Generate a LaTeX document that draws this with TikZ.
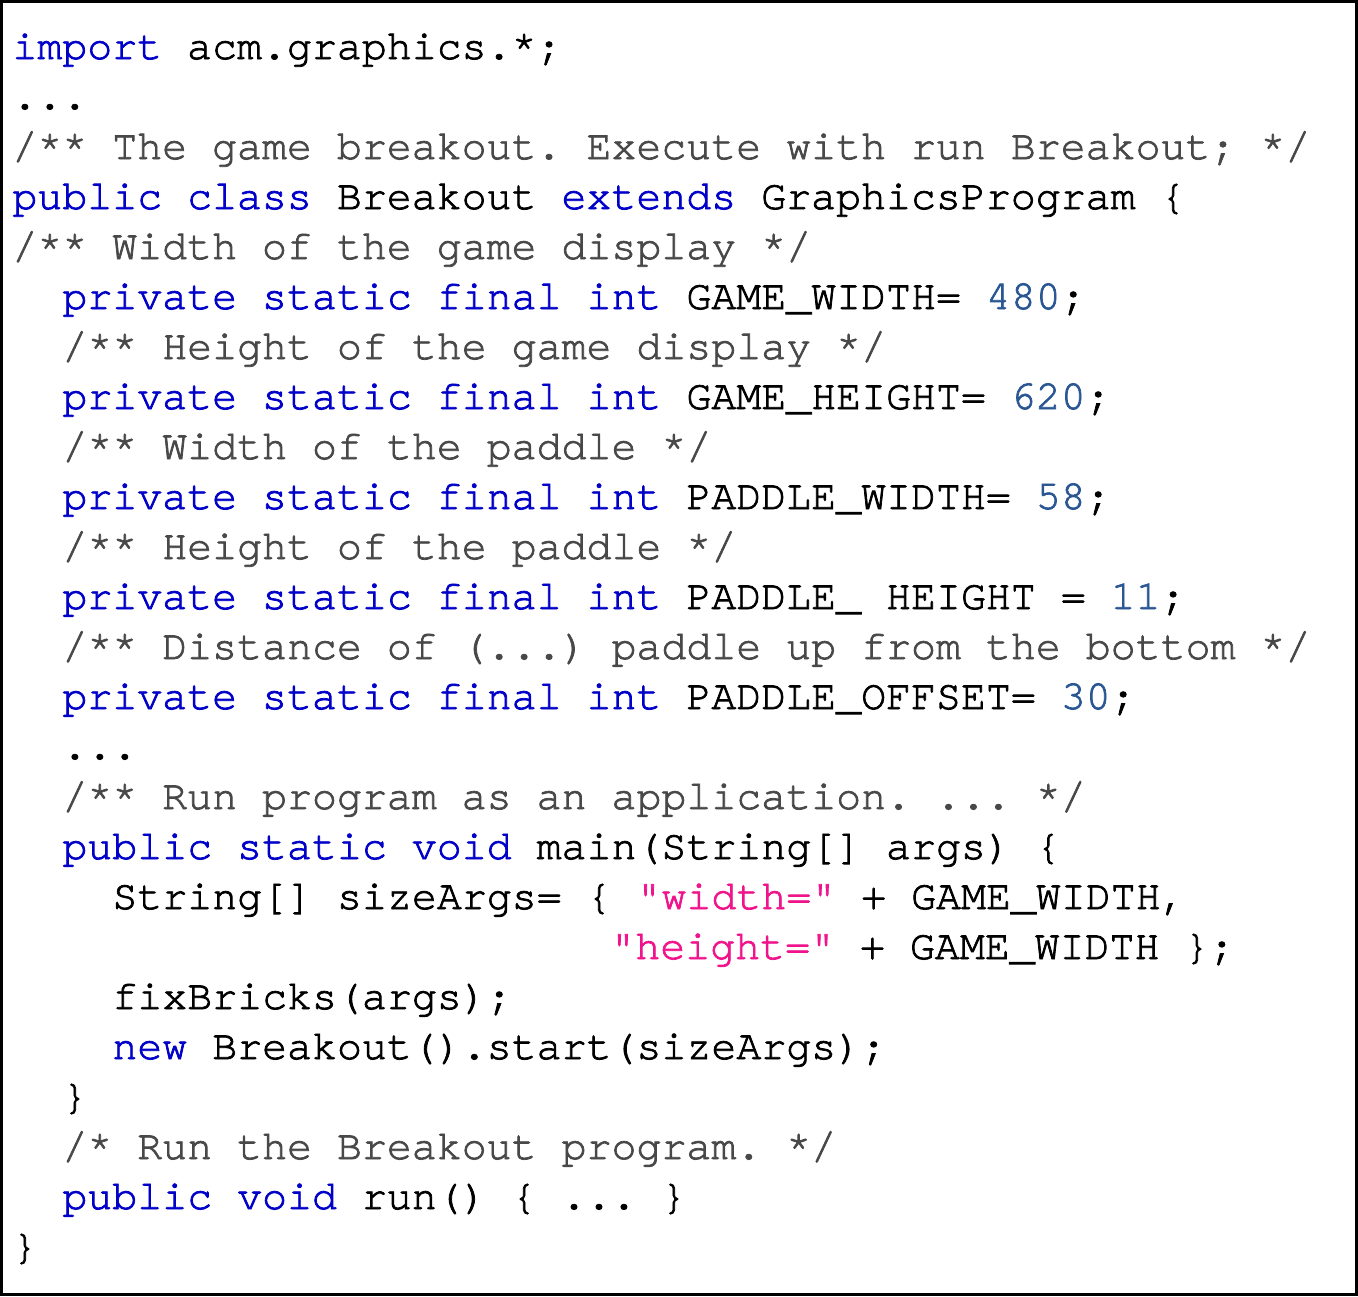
\documentclass[tikz,border=0pt]{standalone}
\usepackage{fontspec}
\newfontfamily\codefont{texgyrecursor-regular.otf}[Ligatures={TeXOff,NoCommon},FakeBold=1.8]
\definecolor{kwblue}{RGB}{0,0,200}
\definecolor{cmgray}{RGB}{72,72,72}
\definecolor{numblue}{RGB}{42,86,148}
\definecolor{strpink}{RGB}{240,20,140}
\newcommand{\kw}[1]{\textcolor{kwblue}{#1}}
\newcommand{\cm}[1]{\textcolor{cmgray}{#1}}
\newcommand{\nm}[1]{\textcolor{numblue}{#1}}
\newcommand{\st}[1]{\textcolor{strpink}{#1}}
\tikzset{codeline/.style={anchor=base west,inner sep=0,font=\codefont\fontsize{20.8pt}{25pt}\selectfont\frenchspacing}}
\begin{document}
\begin{tikzpicture}[x=0.5pt,y=-0.5pt]
        \useasboundingbox (0,0) rectangle (1358,1296);
        \draw[line width=1.4pt] (1.4,1.4) rectangle (1356.6,1294.6);
        \node[codeline] (l0) at (12,59) {\kw{import} acm.graphics.*;};
        \node[codeline] (l1) at (12,109) {...};
        \node[codeline] (l2) at (12,159) {\cm{/** The game breakout. Execute with run Breakout; */}};
        \node[codeline] (l3) at (12,209) {\kw{public class} Breakout \kw{extends} GraphicsProgram \{};
        \node[codeline] (l4) at (12,259) {\cm{/** Width of the game display */}};
        \node[codeline] (l5) at (62,309) {\kw{private static final int} GAME\_WIDTH= \nm{480};};
        \node[codeline] (l6) at (62,359) {\cm{/** Height of the game display */}};
        \node[codeline] (l7) at (62,409) {\kw{private static final int} GAME\_HEIGHT= \nm{620};};
        \node[codeline] (l8) at (62,459) {\cm{/** Width of the paddle */}};
        \node[codeline] (l9) at (62,509) {\kw{private static final int} PADDLE\_WIDTH= \nm{58};};
        \node[codeline] (l10) at (62,559) {\cm{/** Height of the paddle */}};
        \node[codeline] (l11) at (62,609) {\kw{private static final int} PADDLE\_ HEIGHT = \nm{11};};
        \node[codeline] (l12) at (62,659) {\cm{/** Distance of (...) paddle up from the bottom */}};
        \node[codeline] (l13) at (62,709) {\kw{private static final int} PADDLE\_OFFSET= \nm{30};};
        \node[codeline] (l14) at (62,759) {...};
        \node[codeline] (l15) at (62,809) {\cm{/** Run program as an application. ... */}};
        \node[codeline] (l16) at (62,859) {\kw{public static void} main(String[] args) \{};
        \node[codeline] (l17) at (112,909) {String[] sizeArgs= \{ \st{"width="} + GAME\_WIDTH,};
        \node[codeline] (l18) at (610,959) {\st{"height="} + GAME\_WIDTH \};};
        \node[codeline] (l19) at (112,1009) {fixBricks(args);};
        \node[codeline] (l20) at (112,1059) {\kw{new} Breakout().start(sizeArgs);};
        \node[codeline] (l21) at (62,1109) {\}};
        \node[codeline] (l22) at (62,1159) {\cm{/* Run the Breakout program. */}};
        \node[codeline] (l23) at (62,1209) {\kw{public void} run() \{ ... \}};
        \node[codeline] (l24) at (12,1259) {\}};
    \end{tikzpicture}
\end{document}
